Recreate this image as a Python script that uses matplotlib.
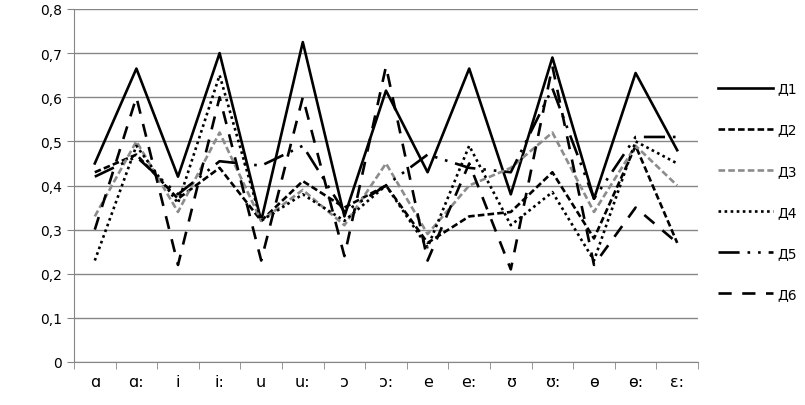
import matplotlib
matplotlib.use("Agg")
import matplotlib.pyplot as plt
from matplotlib.ticker import FuncFormatter, FixedLocator

# vowel categories along the x axis
vowels = ["ɑ", "ɑ:", "i", "i:", "u", "u:", "ɔ", "ɔ:", "e", "e:", "ʊ", "ʊ:", "ɵ", "ɵ:", "ɛ:"]

# values, one list per speaker
d1 = [0.45, 0.665, 0.42, 0.70, 0.32, 0.725, 0.33, 0.615, 0.43, 0.665, 0.38, 0.69, 0.37, 0.655, 0.48]
d2 = [0.43, 0.47, 0.37, 0.44, 0.32, 0.41, 0.35, 0.40, 0.27, 0.33, 0.34, 0.43, 0.28, 0.49, 0.27]
d3 = [0.33, 0.50, 0.34, 0.52, 0.32, 0.39, 0.31, 0.45, 0.29, 0.40, 0.44, 0.52, 0.34, 0.49, 0.40]
d4 = [0.23, 0.49, 0.36, 0.65, 0.32, 0.38, 0.32, 0.40, 0.26, 0.49, 0.31, 0.385, 0.23, 0.50, 0.45]
d5 = [0.42, 0.465, 0.38, 0.455, 0.445, 0.49, 0.34, 0.40, 0.47, 0.44, 0.43, 0.62, 0.37, 0.51, 0.51]
d6 = [0.30, 0.60, 0.22, 0.60, 0.23, 0.60, 0.24, 0.67, 0.23, 0.45, 0.21, 0.67, 0.22, 0.35, 0.27]

series = [
    ("Д1", d1, dict(color="black", linestyle="-")),
    ("Д2", d2, dict(color="black", linestyle=(0, (2.5, 1.2)))),
    ("Д3", d3, dict(color="#8c8c8c", linestyle=(0, (2.5, 1.2)))),
    ("Д4", d4, dict(color="black", linestyle=(0, (1, 1.3)))),
    ("Д5", d5, dict(color="black", linestyle=(0, (8, 3, 1, 3, 1, 3)))),
    ("Д6", d6, dict(color="black", linestyle=(0, (5, 4)))),
]

fig = plt.figure(figsize=(8.05, 4.06), dpi=100)
ax = fig.add_axes([74 / 805, 1 - 363 / 406, 624 / 805, 353 / 406])

x = list(range(len(vowels)))
for name, vals, style in series:
    ax.plot(x, vals, linewidth=1.9, label=name, **style)

ax.set_xlim(-0.5, len(vowels) - 0.5)
ax.set_ylim(0, 0.8)
ax.set_yticks([i / 10 for i in range(9)])
ax.yaxis.set_major_formatter(FuncFormatter(lambda v, p: "0" if v == 0 else f"{v:.1f}".replace(".", ",")))
ax.grid(axis="y", color="#868686", linewidth=1)
ax.set_axisbelow(True)

ax.set_xticks(x)
ax.set_xticklabels(vowels, fontsize=11.5)
ax.tick_params(axis="x", which="major", length=0, pad=9)
ax.xaxis.set_minor_locator(FixedLocator([i - 0.5 for i in range(len(vowels) + 1)]))
ax.tick_params(axis="x", which="minor", length=5, color="#868686")
ax.tick_params(axis="y", length=5, color="#868686", labelsize=10)

for s in ["top", "right"]:
    ax.spines[s].set_visible(False)
for s in ["left", "bottom"]:
    ax.spines[s].set_color("#868686")

ax.legend(loc="upper left", bbox_to_anchor=(705 / 805, 1 - 70 / 406), bbox_transform=fig.transFigure,
          frameon=False, handlelength=4.0, labelspacing=1.95, fontsize=10, handletextpad=0.3)

fig.savefig("out.png", dpi=100)
